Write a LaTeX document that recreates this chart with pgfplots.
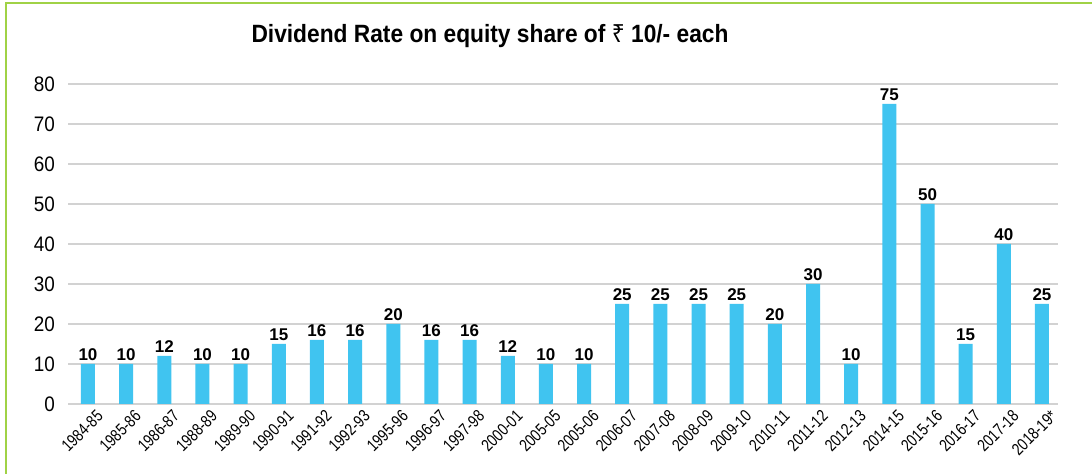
\documentclass[border=0pt]{standalone}
\usepackage{pgfplots}
\pgfplotsset{compat=1.18}
\usepackage{fontspec}
\setmainfont{Liberation Sans}
\newfontfamily\condfont{Liberation Sans}[FakeStretch=0.91]
\newfontfamily\tickfont{Liberation Sans}[FakeStretch=0.9]
\newfontfamily\xfont{Liberation Sans}[FakeStretch=0.8]
\newfontfamily\rupeefont{Noto Sans}[FakeStretch=0.91]
\definecolor{barblue}{RGB}{64,196,240}
\definecolor{framegreen}{RGB}{160,210,70}
\definecolor{gridgray}{RGB}{210,210,210}
\begin{document}
\begin{tikzpicture}
\path[use as bounding box] (0,0) rectangle (546pt,237pt);
\fill[white] (0,0) rectangle (546pt,237pt);
\draw[framegreen, line width=1pt] (3pt,0) -- (3pt,235.5pt) -- (546pt,235.5pt);
\node[font=\condfont\bfseries\fontsize{12.5}{14}\selectfont, anchor=base] at (245pt,215.5pt)
  {Dividend Rate on equity share of {\rupeefont\bfseries ₹} 10/- each};
\begin{axis}[
  at={(34pt,35pt)}, anchor=south west,
  scale only axis, width=495pt, height=160pt,
  xmin=-0.524, xmax=25.42, ymin=0, ymax=80,
  ytick={0,10,...,80},
  xtick={0,...,25},
  xticklabels={1984-85,1985-86,1986-87,1988-89,1989-90,1990-91,1991-92,1992-93,1995-96,1996-97,1997-98,2000-01,2005-05,2005-06,2006-07,2007-08,2008-09,2009-10,2010-11,2011-12,2012-13,2014-15,2015-16,2016-17,2017-18,2018-19*},
  axis line style={draw=none},
  tick style={draw=none},
  ymajorgrids,
  major grid style={gridgray, line width=0.9pt},
  yticklabel style={font=\tickfont\fontsize{10.5}{12}\selectfont, xshift=-3pt},
  xticklabel style={font=\xfont\fontsize{8.5}{10}\selectfont, rotate=45, anchor=east, inner sep=1pt, xshift=2pt, yshift=-7.5pt},
  /pgf/number format/assume math mode=true,
  nodes near coords,
  every node near coord/.append style={font=\bfseries\fontsize{8.5}{10}\selectfont, anchor=south, inner sep=1.5pt},
  clip=false,
]
\addplot[ybar, bar width=7pt, fill=barblue, draw=none] coordinates {
(0,10) (1,10) (2,12) (3,10) (4,10) (5,15) (6,16) (7,16) (8,20) (9,16)
(10,16) (11,12) (12,10) (13,10) (14,25) (15,25) (16,25) (17,25) (18,20) (19,30)
(20,10) (21,75) (22,50) (23,15) (24,40) (25,25)
};
\end{axis}
\end{tikzpicture}
\end{document}
